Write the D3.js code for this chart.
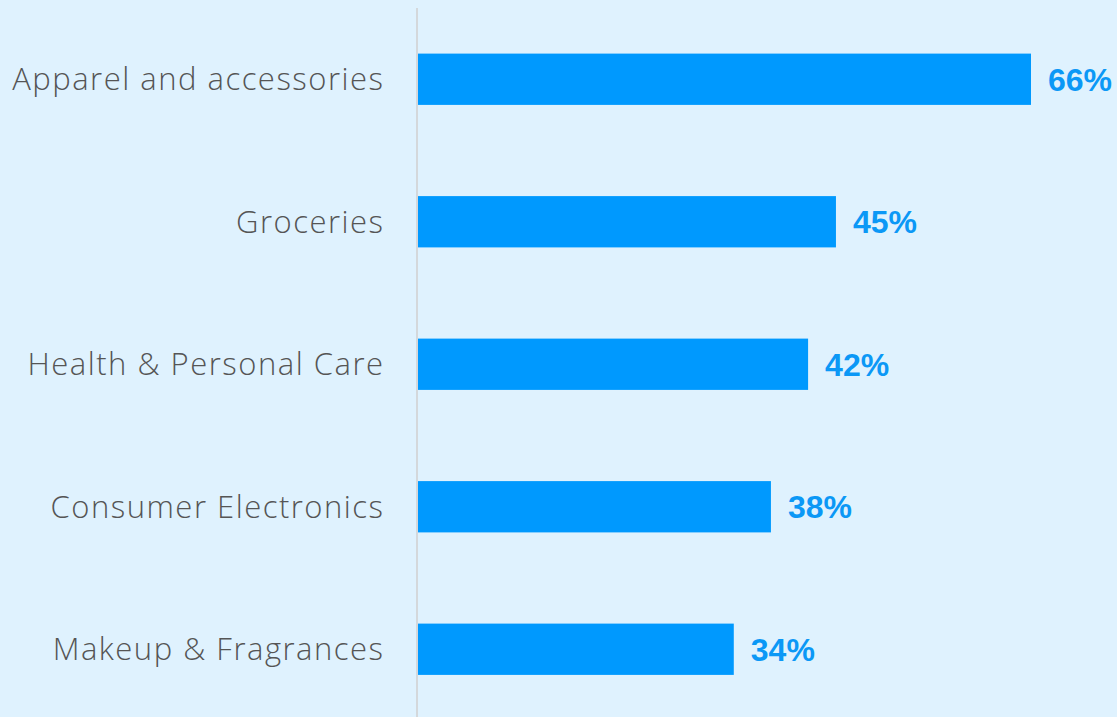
<!DOCTYPE html>
<html>
<head>
<meta charset="utf-8">
<script src="https://cdn.jsdelivr.net/npm/d3@7"></script>
<style>
  html, body { margin: 0; padding: 0; background: #dff2fe; }
  svg { display: block; }
</style>
</head>
<body>
<svg id="chart" width="1117" height="717"></svg>
<script>
// Share of shoppers by category (percent)
const categories = [
  "Apparel and accessories",
  "Groceries",
  "Health & Personal Care",
  "Consumer Electronics",
  "Makeup & Fragrances"
];
const values = [66, 45, 42, 38, 34];

const width = 1117, height = 717;
const axisX = 418;

const svg = d3.select("#chart");

svg.append("rect")
  .attr("width", width).attr("height", height)
  .attr("fill", "#dff2fe");

const y = d3.scaleBand()
  .domain(categories)
  .range([8, 720.5])
  .paddingInner(0.64)
  .paddingOuter(0.32);

const x = d3.scaleLinear()
  .domain([0, 66])
  .range([axisX, 1031]);

const data = categories.map((c, i) => ({ category: c, value: values[i] }));

// bars
svg.append("g")
  .selectAll("rect")
  .data(data)
  .join("rect")
  .attr("x", x(0))
  .attr("y", d => y(d.category))
  .attr("width", d => x(d.value) - x(0))
  .attr("height", y.bandwidth())
  .attr("fill", "#0099fe");

// vertical category axis line
svg.append("line")
  .attr("x1", axisX - 1).attr("x2", axisX - 1)
  .attr("y1", 8).attr("y2", height)
  .attr("stroke", "#d4d8db")
  .attr("stroke-width", 2);

// category labels
svg.append("g")
  .selectAll("text")
  .data(data)
  .join("text")
  .attr("x", 384.5)
  .attr("y", d => y(d.category) + y.bandwidth() / 2)
  .attr("dy", "0.36em")
  .attr("text-anchor", "end")
  .attr("font-family", "'Open Sans', 'Liberation Sans', sans-serif")
  .attr("font-weight", 300)
  .attr("font-size", 31)
  .attr("letter-spacing", "1.5px")
  .attr("fill", "#555555")
  .text(d => d.category);

// value labels
svg.append("g")
  .selectAll("text")
  .data(data)
  .join("text")
  .attr("x", d => x(d.value) + 17)
  .attr("y", d => y(d.category) + y.bandwidth() / 2)
  .attr("dy", "0.36em")
  .attr("font-family", "'Liberation Sans', Arial, sans-serif")
  .attr("font-weight", "bold")
  .attr("font-size", 32)
  .attr("fill", "#0b98f6")
  .text(d => d.value + "%");
</script>
</body>
</html>
